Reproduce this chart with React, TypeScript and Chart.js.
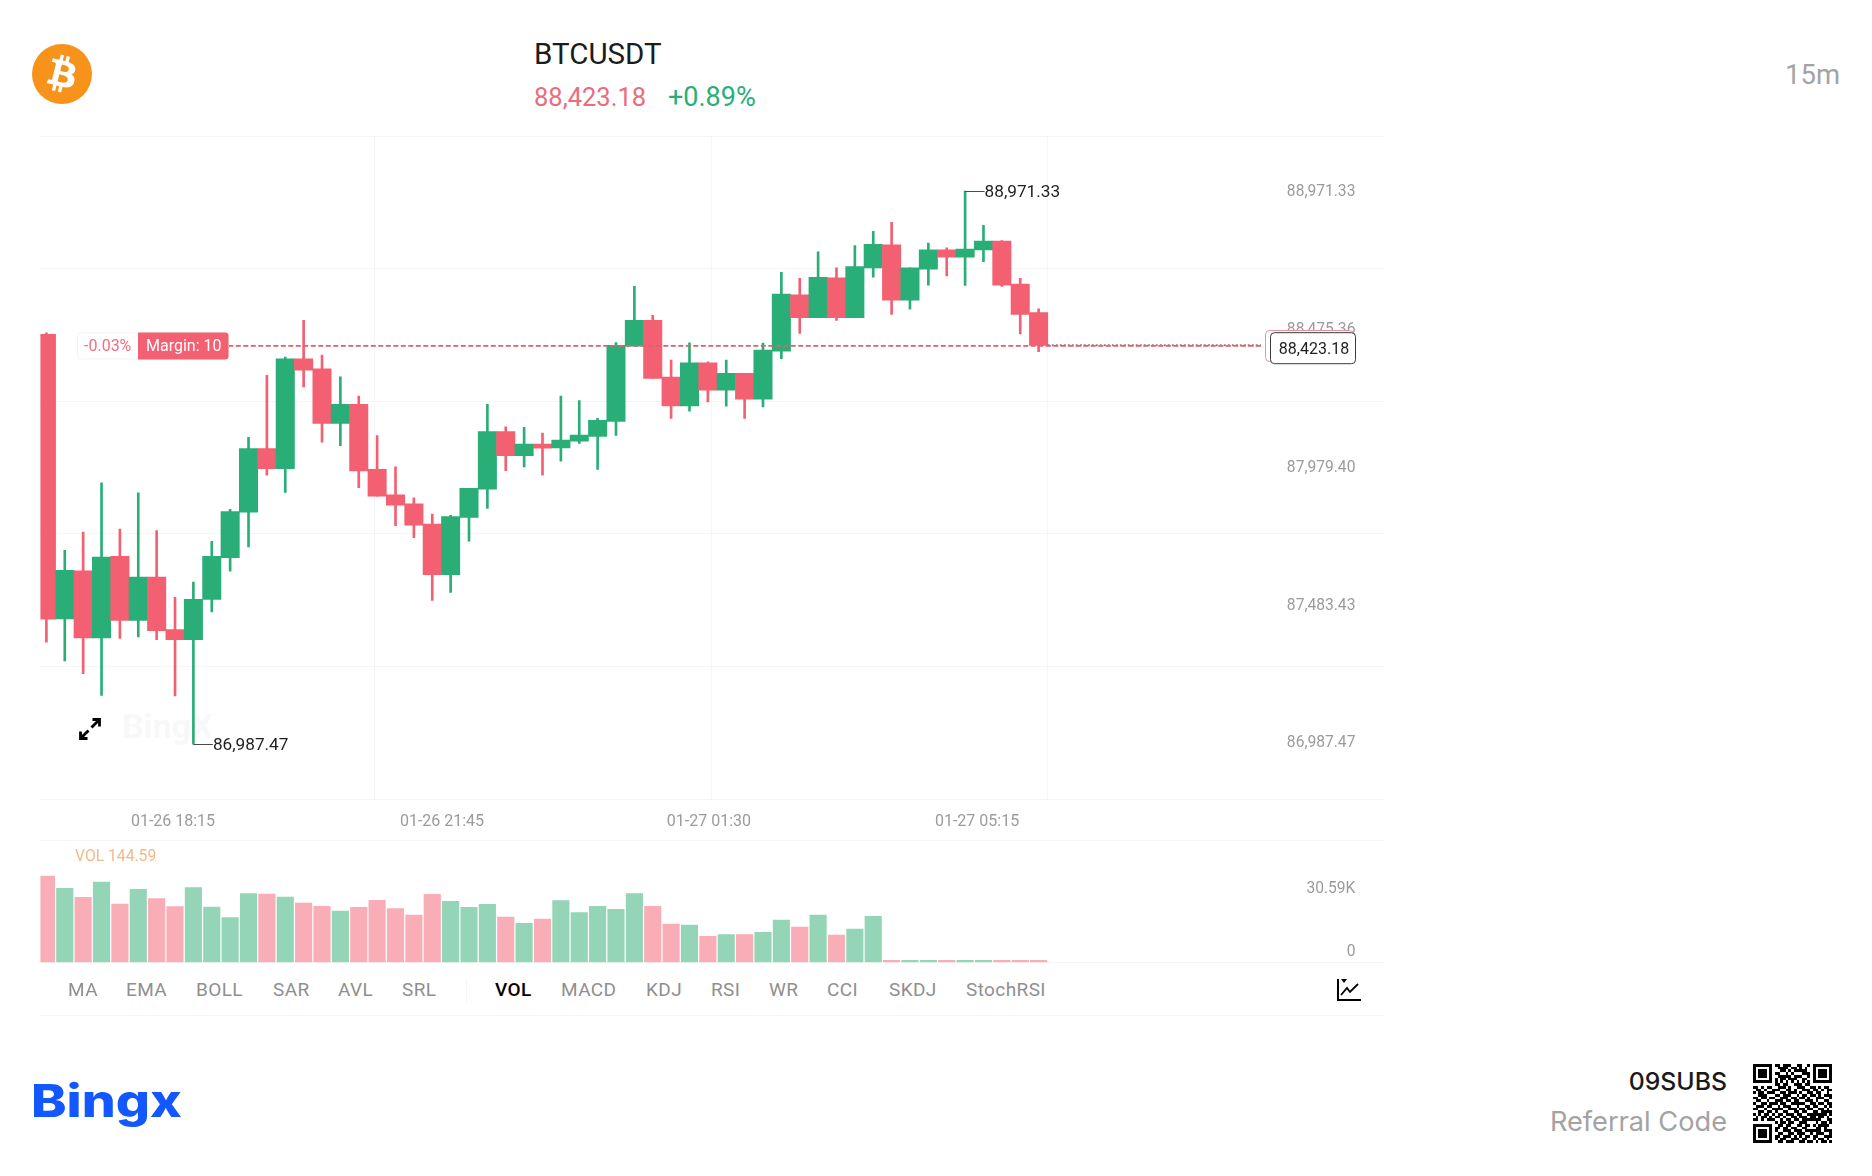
import React, { useEffect, useRef } from "react";
import { Chart, registerables } from "chart.js";

Chart.register(...registerables);

const opens = [88457,87437,87609,87369,87661,87432,87587,87399,87363,87507,87657,87820,88048,87976,88370,88334,88138,88206,87973,87882,87850,87777,87596,87801,87902,88109,88022,88064,88050,88074,88091,88145,88415,88508,88304,88201,88355,88257,88318,88225,88397,88599,88517,88660,88517,88696,88778,88580,88691,88760,88734,88760,88792,88638,88535];
const closes = [87436,87611,87369,87659,87432,87587,87395,87363,87507,87661,87822,88048,87976,88370,88329,88138,88206,87968,87877,87845,87773,87596,87804,87905,88109,88022,88064,88049,88078,88096,88149,88418,88508,88299,88201,88355,88257,88318,88225,88401,88602,88517,88662,88517,88700,88780,88580,88696,88760,88734,88763,88792,88634,88529,88418];
const highs = [88463,87683,87748,87925,87759,87889,87754,87514,87569,87715,87830,88088,88310,88376,88508,88383,88305,88236,88094,87982,87871,87813,87808,87905,88206,88126,88124,88103,88236,88220,88156,88428,88630,88526,88365,88427,88359,88365,88318,88426,88680,88658,88753,88696,88776,88827,88859,88696,88785,88768,88971.33,88848,88794,88658,88549];
const lows = [87354,87286,87241,87163,87367,87372,87363,87161,86987.47,87462,87608,87695,87952,87891,88269,88071,88058,87908,87877,87771,87728,87503,87532,87716,87833,87969,87982,87952,88003,88066,87973,88095,88415,88299,88156,88182,88215,88200,88156,88197,88370,88461,88517,88507,88517,88662,88529,88548,88634,88667,88633,88718,88629,88459,88395];
const volumes = [41900,35930,31560,38990,28300,35440,30930,27040,36270,26850,21700,33350,33160,31700,28790,27190,24910,26700,30100,26070,22960,33010,29620,26700,28160,21990,18930,21020,29960,24130,27190,25730,33350,27190,18590,18110,12620,13450,13450,14570,20540,17140,22960,13250,16170,22330,700,500,500,600,500,500,600,500,144.59];

const priceTickSlots = [88960.5, 88468.9, 87972.9, 87479.1, 86987.47];
const priceTickLabels = ["88,971.33", "88,475.36", "87,979.40", "87,483.43", "86,987.47"];
const timeTickSlots = [6.89, 21.53, 36.06, 50.65];
const timeTickLabels = ["01-26 18:15", "01-26 21:45", "01-27 01:30", "01-27 05:15"];
const gridSlots = [17.83, 36.22, 54.47];
const volumeTicks = [0, 30590];
const volumeTickLabels = ["0", "30.59K"];

const positionPrice = 88416;
const lastLinePrice = 88418;
const lineEndSlot = 66.1;
const lineStartSlot = 9.9;

const leftIndicators: [string, number][] = [["MA", 68], ["EMA", 126], ["BOLL", 196], ["SAR", 273], ["AVL", 338], ["SRL", 402]];
const rightIndicators: [string, number][] = [["VOL", 495], ["MACD", 561], ["KDJ", 646], ["RSI", 711], ["WR", 769], ["CCI", 827], ["SKDJ", 889], ["StochRSI", 966]];

const qrRows = [
"11111110110111001100101111111",
"10000010011110110101001000001",
"10111010001101011111001011101",
"10111010110010100011101011101",
"10111010011111011100101011101",
"10000010101101110011001000001",
"11111110101010101010101111111",
"00000000110110011101100000000",
"11010110011101001110011010110",
"01101001110011010011101101011",
"10110111001101110100110110010",
"00111000110111001011011010111",
"11011011001110110110100111001",
"01100100111011011001110100110",
"10011011101100111110011011011",
"01110110010111001001101100101",
"11001001111001110110110011010",
"00110110100110011011001101111",
"10101101011011101100111111101",
"01011010110100110111011011010",
"11010111001011011011111110011",
"00000000101101100111000101101",
"11111110011011001101101011110",
"10000010110110110011000110100",
"10111010100111011101111110111",
"10111010011001101110010111001",
"10111010110111010101101100111",
"10000010101100111011001011010",
"11111110011011100110110101101",
];

const GREEN = "#2aae78";
const RED = "#f36071";
const GRID = "#f5f5f5";
const AXIS_TEXT = "#9b9b9b";
const FONT = "Roboto";
const X_MIN = -0.3265;
const X_MAX = 72.82;

const indices = opens.map((_, i) => i);
const candleColors = opens.map((o, i) => (closes[i] >= o ? GREEN : RED));
const volumeColors = opens.map((o, i) => (closes[i] >= o ? "#95d5b7" : "#f9adb6"));

function fixedHeight(h: number) {
  return (s: any) => { s.height = h; s.paddingLeft = 0; s.paddingRight = 0; };
}
function fixedWidth(w: number) {
  return (s: any) => { s.width = w; s.paddingTop = 0; s.paddingBottom = 0; };
}

function roundRect(ctx: CanvasRenderingContext2D, x: number, y: number, w: number, h: number, r: any) {
  ctx.beginPath();
  ctx.roundRect(x, y, w, h, r);
}

const overlayPlugin = {
  id: "overlay",
  beforeDatasetsDraw(chart: any) {
    const ctx = chart.ctx;
    ctx.save();
    ctx.font = `700 34px ${FONT}`;
    ctx.fillStyle = "#f8f8f8";
    ctx.textAlign = "left";
    ctx.textBaseline = "middle";
    ctx.fillText("BingX", 122, 729);
    ctx.restore();
  },
  afterDraw(chart: any) {
    const ctx: CanvasRenderingContext2D = chart.ctx;
    const xs = chart.scales.x;
    const ys = chart.scales.y;
    ctx.save();

    // highest / lowest price marks
    const hi = Math.max(...highs);
    const lo = Math.min(...lows);
    const marks: [number, number][] = [[highs.indexOf(hi), hi], [lows.indexOf(lo), lo]];
    marks.forEach(([i, v]) => {
      const px = xs.getPixelForValue(i);
      const py = Math.round(ys.getPixelForValue(v)) + 0.5;
      ctx.strokeStyle = "#4a4a4a";
      ctx.lineWidth = 1;
      ctx.beginPath();
      ctx.moveTo(px, py);
      ctx.lineTo(px + 19.5, py);
      ctx.stroke();
      ctx.font = `400 17.2px ${FONT}`;
      ctx.fillStyle = "#1f1f1f";
      ctx.textAlign = "left";
      ctx.textBaseline = "middle";
      ctx.fillText(v.toLocaleString("en-US", { minimumFractionDigits: 2 }), px + 19.5, py + 1.5);
    });

    // position tag
    const tagY = ys.getPixelForValue(positionPrice);
    ctx.fillStyle = "#ffffff";
    ctx.strokeStyle = "#f2f2f2";
    ctx.lineWidth = 1;
    roundRect(ctx, 77.5, tagY - 13, 151, 26, 3);
    ctx.fill();
    ctx.stroke();
    ctx.fillStyle = RED;
    roundRect(ctx, 138, tagY - 13.5, 90.5, 27, [0, 3, 3, 0]);
    ctx.fill();
    ctx.textBaseline = "middle";
    ctx.textAlign = "left";
    ctx.font = `400 16px ${FONT}`;
    ctx.fillStyle = "#f0707f";
    ctx.fillText("-0.03%", 84, tagY + 1.5);
    ctx.fillStyle = "#ffffff";
    ctx.fillText("Margin: 10", 146, tagY + 1.5);

    // last price box
    const boxY = 332.7;
    ctx.fillStyle = "#ffffff";
    ctx.strokeStyle = "#f0909c";
    roundRect(ctx, 1265.5, 330.5, 88, 31, 4);
    ctx.fill();
    ctx.stroke();
    ctx.strokeStyle = "#3a3a3a";
    roundRect(ctx, 1270.5, boxY, 85, 31, 4);
    ctx.fill();
    ctx.stroke();
    ctx.font = `400 16px ${FONT}`;
    ctx.fillStyle = "#1f1f1f";
    ctx.textAlign = "center";
    ctx.fillText("88,423.18", 1314, boxY + 17);
    ctx.restore();
  },
};

function MainChart() {
  const ref = useRef<HTMLCanvasElement>(null);
  useEffect(() => {
    const chart = new Chart(ref.current!, {
      type: "bar",
      data: {
        datasets: [
          {
            type: "bar",
            label: "wick",
            data: indices.map((i) => ({ x: i, y: [lows[i], highs[i]] })) as any,
            backgroundColor: candleColors,
            barThickness: 2,
            maxBarThickness: 2,
            grouped: false,
            order: 2,
          },
          {
            type: "bar",
            label: "body",
            data: indices.map((i) => ({ x: i, y: [opens[i], closes[i]] })) as any,
            backgroundColor: candleColors,
            barThickness: 18.37,
            maxBarThickness: 18.37,
            grouped: false,
            order: 1,
          },
          {
            type: "line",
            label: "position",
            data: [{ x: lineStartSlot, y: positionPrice }, { x: lineEndSlot, y: positionPrice }] as any,
            borderColor: "#e0606f",
            borderWidth: 1.8,
            borderDash: [5, 2.5],
            pointRadius: 0,
            order: 0,
          },
          {
            type: "line",
            label: "last",
            data: [{ x: indices.length - 0.5, y: lastLinePrice }, { x: lineEndSlot, y: lastLinePrice }] as any,
            borderColor: "#b0727b",
            borderWidth: 2,
            borderDash: [2, 2],
            pointRadius: 0,
            order: 0,
          },
        ] as any,
      },
      options: {
        animation: false,
        responsive: false,
        maintainAspectRatio: false,
        layout: { padding: { left: 40.4, right: 487.6, top: 136, bottom: 0 } },
        plugins: { legend: { display: false }, tooltip: { enabled: false } },
        scales: {
          x: {
            type: "linear",
            offset: false,
            min: X_MIN,
            max: X_MAX,
            grid: { display: false, drawTicks: false },
            border: { display: false },
            afterBuildTicks: (s: any) => { s.ticks = timeTickSlots.map((value) => ({ value })); },
            afterFit: fixedHeight(40.7),
            ticks: {
              autoSkip: false,
              maxRotation: 0,
              padding: 13.4,
              color: AXIS_TEXT,
              font: { family: FONT, size: 16 },
              callback: (v: any) => timeTickLabels[timeTickSlots.indexOf(v)] ?? "",
            },
          },
          xGrid: {
            type: "linear",
            offset: false,
            min: X_MIN,
            max: X_MAX,
            border: { display: false },
            grid: { color: GRID, drawTicks: false, offset: false },
            afterBuildTicks: (s: any) => { s.ticks = gridSlots.map((value) => ({ value })); },
            afterFit: fixedHeight(0),
            ticks: { display: false },
          },
          y: {
            type: "linear",
            position: "right",
            min: 86790.2,
            max: 89168.6,
            grid: { display: false, drawTicks: false },
            border: { display: false },
            afterBuildTicks: (s: any) => { s.ticks = priceTickSlots.map((value) => ({ value })); },
            afterFit: fixedWidth(0),
            ticks: {
              mirror: true,
              padding: -29,
              color: AXIS_TEXT,
              font: { family: FONT, size: 15.6, lineHeight: "3px" },
              callback: (v: any) => [priceTickLabels[priceTickSlots.indexOf(v)] ?? "", ""],
            },
          },
          yGrid: {
            type: "linear",
            position: "left",
            min: 0,
            max: 5,
            border: { display: false },
            grid: { color: GRID, drawTicks: false },
            afterFit: fixedWidth(0),
            ticks: { display: false, stepSize: 1 },
          },
        } as any,
      },
      plugins: [overlayPlugin],
    });
    return () => chart.destroy();
  }, []);
  return <canvas ref={ref} width={1872} height={840} style={{ position: "absolute", left: 0, top: 0 }} />;
}

function VolumeChart() {
  const ref = useRef<HTMLCanvasElement>(null);
  useEffect(() => {
    const chart = new Chart(ref.current!, {
      type: "bar",
      data: {
        datasets: [
          {
            label: "VOL",
            data: indices.map((i) => ({ x: i, y: volumes[i] })) as any,
            backgroundColor: volumeColors,
            barThickness: 16.5,
            maxBarThickness: 16.5,
            grouped: false,
            minBarLength: 2,
          },
        ] as any,
      },
      options: {
        animation: false,
        responsive: false,
        maintainAspectRatio: false,
        layout: { padding: { left: 40.4, right: 487.6, top: 10, bottom: 7.7 } },
        plugins: { legend: { display: false }, tooltip: { enabled: false } },
        scales: {
          x: { type: "linear", display: false, offset: false, min: X_MIN, max: X_MAX },
          y: {
            type: "linear",
            position: "right",
            min: 0,
            max: 59376,
            grid: { display: false, drawTicks: false },
            border: { display: false },
            afterBuildTicks: (s: any) => { s.ticks = volumeTicks.map((value) => ({ value })); },
            afterFit: fixedWidth(0),
            ticks: {
              mirror: true,
              padding: -29,
              color: AXIS_TEXT,
              font: { family: FONT, size: 15.6, lineHeight: "20.4px" },
              callback: (v: any) => [volumeTickLabels[volumeTicks.indexOf(v)] ?? "", ""],
            },
          },
          yGrid: {
            type: "linear",
            position: "left",
            min: 0,
            max: 1,
            border: { display: false },
            grid: { color: GRID, drawTicks: false },
            afterFit: fixedWidth(0),
            ticks: { display: false, stepSize: 1 },
          },
        } as any,
      },
      plugins: [
        {
          id: "volTitle",
          afterDraw(chart: any) {
            const ctx = chart.ctx;
            ctx.save();
            ctx.font = `400 15.7px ${FONT}`;
            ctx.fillStyle = "#f3b987";
            ctx.textBaseline = "middle";
            ctx.textAlign = "left";
            ctx.fillText("VOL 144.59", 75, 27);
            ctx.restore();
          },
        },
      ],
    });
    return () => chart.destroy();
  }, []);
  return <canvas ref={ref} width={1872} height={140} style={{ position: "absolute", left: 0, top: 830 }} />;
}

const text = (left: number, centerY: number, size: number, color: string, extra: React.CSSProperties = {}): React.CSSProperties => ({
  position: "absolute",
  left,
  top: centerY - size,
  height: size * 2,
  lineHeight: `${size * 2}px`,
  fontSize: size,
  color,
  fontFamily: FONT,
  whiteSpace: "nowrap",
  ...extra,
});

const rightText = (right: number, centerY: number, size: number, color: string, extra: React.CSSProperties = {}): React.CSSProperties => ({
  ...text(0, centerY, size, color, extra),
  left: undefined,
  right: 1872 - right,
});

function QrCode() {
  return (
    <svg width={79} height={79} viewBox="0 0 29 29" shapeRendering="crispEdges" style={{ position: "absolute", left: 1753, top: 1064 }}>
      <rect width={29} height={29} fill="#fff" />
      {qrRows.map((row, y) =>
        row.split("").map((c, x) => (c === "1" ? <rect key={`${x}-${y}`} x={x} y={y} width={1} height={1} fill="#000" /> : null))
      )}
    </svg>
  );
}

export default function App() {
  useEffect(() => {
    document.body.style.margin = "0";
  }, []);
  return (
    <div style={{ position: "absolute", left: 0, top: 0, width: 1872, height: 1176, background: "#fff", overflow: "hidden" }}>
      {/* coin */}
      <svg width={60} height={60} viewBox="0 0 64 64" style={{ position: "absolute", left: 32, top: 44 }}>
        <circle cx={32} cy={32} r={32} fill="#f7931a" />
        <path
          fill="#fff"
          d="M46.1 27.441c.638-4.258-2.605-6.547-7.038-8.074l1.438-5.768-3.511-.875-1.4 5.616c-.923-.23-1.871-.447-2.813-.662l1.41-5.653-3.509-.875-1.439 5.766c-.764-.174-1.514-.346-2.242-.527l.004-.018-4.842-1.209-.934 3.75s2.605.597 2.55.634c1.422.355 1.679 1.296 1.636 2.042l-1.638 6.571c.098.025.225.061.365.117l-.371-.092-2.296 9.205c-.174.432-.615 1.08-1.609.834.035.051-2.552-.637-2.552-.637l-1.743 4.019 4.569 1.139c.85.213 1.683.436 2.503.646l-1.453 5.834 3.507.875 1.439-5.772c.958.26 1.888.5 2.798.726l-1.434 5.745 3.511.875 1.453-5.823c5.987 1.133 10.489.676 12.384-4.739 1.527-4.36-.076-6.875-3.226-8.515 2.294-.529 4.022-2.038 4.483-5.155zM38.08 38.69c-1.085 4.36-8.426 2.003-10.806 1.412l1.928-7.729c2.38.594 10.012 1.77 8.878 6.317zm1.086-11.312c-.99 3.966-7.1 1.951-9.082 1.457l1.748-7.01c1.982.494 8.365 1.416 7.334 5.553z"
        />
      </svg>
      <span style={text(534, 54, 29.5, "#1c1c1c")}>BTCUSDT</span>
      <span style={text(534, 97, 25.5, "#ee6b7b")}>88,423.18</span>
      <span style={text(668, 97, 27, GREEN)}>+0.89%</span>
      <span style={rightText(1840, 74.5, 27.5, "#a3a3a3")}>15m</span>

      <MainChart />
      <VolumeChart />

      {/* expand icon */}
      <svg width={24} height={24} viewBox="0 0 24 24" style={{ position: "absolute", left: 77.5, top: 717 }} fill="none" stroke="#000" strokeWidth={2.8}>
        <path d="M3 21 L10.5 13.5" />
        <path d="M13.5 10.5 L21 3" />
        <path d="M14.5 2.5 H21.5 V9.5" />
        <path d="M2.5 14.5 V21.5 H9.5" />
      </svg>

      {/* indicator row */}
      {leftIndicators.concat(rightIndicators).map(([label, x]) => (
        <span key={label} style={text(x, 990, 19, label === "VOL" ? "#000" : "#8f8f8f", { letterSpacing: 0.4, fontWeight: label === "VOL" ? 500 : 400 })}>
          {label}
        </span>
      ))}
      <div style={{ position: "absolute", left: 466, top: 978, width: 1, height: 24, background: GRID }} />
      <div style={{ position: "absolute", left: 40, top: 1015, width: 1344, height: 1, background: GRID }} />
      <svg width={26} height={24} viewBox="0 0 26 24" style={{ position: "absolute", left: 1336, top: 978 }} fill="none" stroke="#000" strokeWidth={2}>
        <path d="M2 1 V22 H25" />
        <path d="M5 17 L11 10 L14 14 L22 6" strokeWidth={1.8} />
        <path d="M5 1 H11 L8 5 Z" fill="#000" stroke="none" />
      </svg>

      {/* footer */}
      <span style={text(31, 1101, 45, "#1257ff", { fontFamily: "Inter", fontWeight: 800, transform: "scaleX(1.19)", transformOrigin: "left center" })}>Bingx</span>
      <span style={rightText(1727, 1082, 24.8, "#1a1a1a", { fontFamily: "Inter", fontWeight: 500 })}>09SUBS</span>
      <span style={rightText(1727, 1122.5, 27.2, "#a3a3a3", { fontFamily: "Inter" })}>Referral Code</span>
      <QrCode />
    </div>
  );
}
